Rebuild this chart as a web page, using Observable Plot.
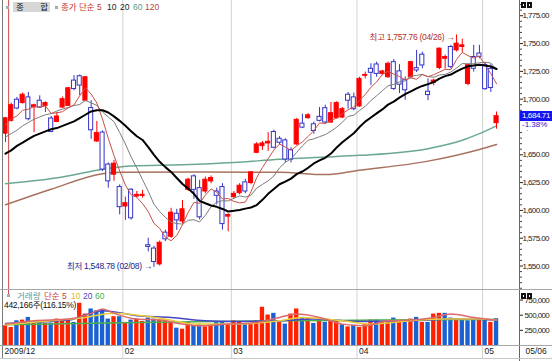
<!DOCTYPE html>
<html><head><meta charset="utf-8">
<script src="https://cdn.jsdelivr.net/npm/d3@7"></script>
<script src="https://cdn.jsdelivr.net/npm/@observablehq/plot@0.6"></script>
<style>
body{margin:0;background:#fff;}
#chart{position:relative;width:552px;height:361px;overflow:hidden;background:#fff;font-family:'Liberation Sans','Noto Sans CJK KR',sans-serif;}
#chart svg{position:absolute;left:0;}
.ov{position:absolute;white-space:nowrap;font-size:8.5px;line-height:10px;}
.hl{position:absolute;height:1px;}
.vl{position:absolute;width:1px;}
</style></head><body><div id="chart"></div>
<script>
// ---- data ----
const dates = ["12/30","01/04","01/05","01/06","01/07","01/08","01/11","01/12","01/13","01/14","01/15","01/18","01/19","01/20","01/21","01/22","01/25","01/26","01/27","01/28","01/29","02/01","02/02","02/03","02/04","02/05","02/08","02/09","02/10","02/11","02/12","02/16","02/17","02/18","02/19","02/22","02/23","02/24","02/25","02/26","03/02","03/03","03/04","03/05","03/08","03/09","03/10","03/11","03/12","03/15","03/16","03/17","03/18","03/19","03/22","03/23","03/24","03/25","03/26","03/29","03/30","03/31","04/01","04/02","04/05","04/06","04/07","04/08","04/09","04/12","04/13","04/14","04/15","04/16","04/19","04/20","04/21","04/22","04/23","04/26","04/27","04/28","04/29","04/30","05/03","05/04","05/06"];
const opens = [1669.0,1680.5,1699.5,1696.5,1701.6,1692.8,1698.6,1694.0,1682.6,1679.5,1692.5,1694.0,1716.7,1720.6,1698.6,1692.0,1662.0,1670.0,1641.2,1632.1,1621.0,1603.5,1618.6,1612.5,1613.0,1568.7,1565.7,1551.5,1580.0,1576.3,1597.0,1590.0,1618.5,1630.6,1620.0,1617.0,1626.1,1617.0,1621.0,1594.4,1611.9,1615.5,1625.2,1624.6,1651.8,1657.8,1660.2,1670.5,1664.4,1662.9,1654.2,1659.3,1678.0,1682.9,1677.4,1684.1,1691.9,1679.0,1682.9,1683.5,1704.0,1701.6,1693.5,1721.0,1727.3,1731.2,1722.7,1719.7,1733.3,1725.0,1717.0,1719.7,1727.9,1740.0,1706.7,1714.6,1727.9,1736.3,1746.9,1743.9,1746.9,1713.7,1737.9,1741.0,1730.6,1727.0,1678.4];
const highs = [1683.5,1696.5,1701.6,1705.5,1706.0,1695.5,1703.0,1697.7,1684.5,1688.0,1702.0,1710.5,1721.2,1721.8,1720.3,1698.6,1680.0,1671.5,1642.7,1645.0,1623.0,1612.0,1619.5,1617.0,1618.0,1575.0,1567.8,1572.5,1582.3,1601.9,1601.0,1609.0,1629.0,1632.0,1627.0,1630.0,1631.0,1620.0,1624.0,1597.0,1617.0,1624.0,1628.0,1635.0,1661.0,1662.0,1669.9,1672.0,1666.3,1664.4,1656.3,1682.6,1686.5,1687.0,1679.5,1692.5,1694.6,1697.0,1697.7,1692.5,1706.1,1705.5,1719.7,1724.4,1731.8,1733.3,1725.8,1733.3,1735.7,1731.0,1720.0,1734.0,1743.9,1742.4,1718.2,1718.0,1746.0,1739.6,1748.4,1757.76,1754.0,1731.5,1748.4,1748.4,1733.0,1731.0,1688.5];
const lows = [1661.0,1679.5,1690.5,1695.6,1680.5,1670.0,1691.6,1688.0,1669.9,1678.8,1691.6,1693.4,1707.6,1703.1,1697.7,1663.8,1661.0,1635.0,1620.0,1626.1,1596.0,1591.0,1591.3,1611.0,1611.0,1562.7,1548.78,1550.0,1572.0,1574.8,1582.0,1588.0,1617.0,1610.0,1591.4,1615.0,1624.0,1605.0,1582.3,1580.8,1610.0,1614.0,1615.0,1623.0,1651.0,1654.0,1653.0,1655.4,1659.0,1642.7,1642.7,1658.4,1673.5,1682.0,1668.4,1679.6,1677.4,1678.3,1682.0,1682.6,1691.0,1689.5,1692.5,1718.2,1712.2,1719.7,1721.0,1718.8,1707.7,1705.0,1699.0,1718.5,1724.0,1727.3,1698.6,1712.0,1726.5,1727.0,1727.3,1742.5,1742.0,1712.0,1724.3,1736.3,1708.0,1706.0,1673.0];
const closes = [1682.8,1694.6,1691.6,1704.0,1682.0,1694.5,1692.5,1696.5,1670.5,1684.4,1700.0,1709.8,1709.1,1712.2,1719.7,1672.0,1669.5,1636.7,1626.1,1642.0,1602.9,1606.5,1592.9,1614.0,1614.0,1567.2,1553.6,1570.9,1574.0,1598.0,1591.0,1601.0,1627.6,1618.5,1593.8,1627.6,1629.1,1613.1,1587.7,1595.9,1614.9,1622.2,1617.0,1634.2,1659.3,1660.2,1661.7,1656.3,1660.8,1645.7,1645.7,1681.4,1674.4,1685.5,1671.4,1680.5,1679.0,1687.4,1696.5,1691.0,1698.6,1691.0,1718.2,1721.8,1723.7,1722.7,1724.9,1731.8,1709.2,1713.0,1708.0,1733.3,1725.8,1730.3,1703.7,1716.7,1745.4,1737.9,1728.8,1749.9,1748.4,1730.6,1727.3,1738.0,1709.0,1710.0,1684.71];
const prevClose = 1670.0; // close before the first visible day
const volumes = [325,297,408,419,464,381,397,364,369,436,419,419,381,697,519,603,575,586,436,475,475,381,419,436,397,453,436,419,419,381,286,269,381,325,342,308,342,381,397,342,408,397,364,353,408,631,503,531,381,353,519,603,464,453,364,419,381,397,397,342,308,336,297,353,419,419,381,381,453,408,381,436,464,381,381,519,531,531,453,436,419,408,419,419,419,381,442.166];
const ma5 = [1677,1682,1685,1690,1691.0,1693.3,1692.9,1693.9,1687.2,1687.7,1688.8,1692.2,1694.8,1703.1,1710.2,1704.6,1696.5,1682.0,1664.8,1649.3,1635.4,1622.8,1614.1,1611.7,1606.1,1598.9,1588.3,1583.9,1575.9,1572.7,1577.5,1587.0,1598.3,1607.2,1606.4,1613.7,1619.3,1616.4,1610.3,1610.7,1608.1,1606.8,1607.5,1616.8,1629.5,1638.6,1646.5,1654.3,1659.7,1656.9,1654.0,1658.0,1661.6,1666.5,1671.7,1678.6,1678.2,1680.8,1683.0,1686.9,1690.5,1692.9,1699.1,1704.1,1710.7,1715.5,1722.3,1725.0,1722.5,1720.3,1717.4,1719.1,1717.9,1722.1,1720.2,1722.0,1724.4,1726.8,1726.5,1735.7,1742.1,1739.1,1737.0,1738.8,1730.7,1723.0,1713.8];
const ma10 = [1666,1669,1672,1676,1679,1682,1684,1686,1687,1689.3,1691.1,1692.6,1694.3,1695.2,1698.9,1696.7,1694.4,1688.4,1684.0,1679.7,1670.0,1659.7,1648.1,1638.2,1627.7,1617.2,1605.6,1599.0,1593.8,1589.4,1588.2,1587.7,1591.1,1591.6,1589.6,1595.6,1603.2,1607.4,1608.7,1608.5,1610.9,1613.0,1612.0,1613.6,1620.1,1623.4,1626.6,1630.9,1638.3,1643.2,1646.3,1652.2,1658.0,1663.1,1664.3,1666.3,1668.1,1671.2,1674.8,1679.3,1684.6,1685.5,1689.9,1693.5,1698.8,1703.0,1707.6,1712.0,1713.3,1715.5,1716.4,1720.7,1721.4,1722.3,1720.3,1719.7,1721.7,1722.3,1724.3,1728.0,1732.0,1731.8,1731.9,1732.7,1733.2,1732.5,1726.5];
const ma20 = [1651,1654,1658,1661,1664,1667,1669,1671,1673,1674,1676,1678,1680,1683,1686,1689,1690,1690,1688,1684.5,1680.5,1676.1,1671.2,1666.7,1663.3,1656.9,1650.0,1643.7,1638.9,1634.6,1629.1,1623.7,1619.6,1614.9,1608.6,1606.4,1604.4,1603.2,1601.3,1599.0,1599.6,1600.4,1601.6,1602.6,1604.8,1609.5,1614.9,1619.2,1623.5,1625.9,1628.6,1632.6,1635.0,1638.3,1642.2,1644.9,1647.3,1651.1,1656.5,1661.3,1665.4,1669.4,1674.9,1679.8,1683.5,1687.2,1690.8,1695.1,1697.8,1701.4,1704.5,1707.1,1709.7,1711.9,1713.5,1715.3,1718.5,1720.7,1722.1,1724.9,1727.4,1729.5,1730.2,1731.0,1730.2,1729.4,1727.1];
const ma60Idx = [0,10,17,22,31,40,48,56,62,74,80,83,86];
const ma60 = [1624,1630,1637,1640,1641,1643,1646,1648,1649.5,1655.5,1663,1669,1676];
const ma120Idx = [0,8,17,20,34,48,56,62,74,83,86];
const ma120 = [1605,1619,1633,1634.3,1634.5,1634.3,1632.2,1636.1,1644.3,1654.8,1659.3];
const vma5Idx = [0,5,11,15,17,19,23,27,31,34,39,44,48,51,55,59,63,67,71,75,78,82,86];
const vma5 = [353,408,436,531,603,531,436,419,353,325,353,381,464,519,464,353,325,408,419,464,519,464,419];
const vma10Idx = [0,8,14,19,24,29,33,40,48,52,59,64,71,77,83,86];
const vma10 = [342,408,464,531,492,419,353,353,408,464,408,353,408,436,436,419];
const vma20Idx = [0,11,17,23,29,35,40,48,54,62,71,79,86];
const vma20 = [364,419,575,492,464,408,397,408,436,397,408,436,419];
const vma60Idx = [0,23,48,65,86];
const vma60 = [342,381,408,419,431];
const priceTicks = [1550,1575,1600,1625,1650,1675,1700,1725,1750,1775];
const volTicks = [250000,500000,750000];
const firstLabel = "2009/12";
const lastChangeLabel = "-1.38%";
const volInfoLabel = "442,166주(116.15%)";

// ---- build ----
const N = closes.length;
const data = d3.range(N).map(i => ({i, o: opens[i], h: highs[i], l: lows[i], c: closes[i], v: volumes[i]*1000,
  up: closes[i] >= opens[i], vup: closes[i] >= (i ? closes[i-1] : prevClose)}));
const RED = "#ff0000", BLUE = "#3434c8", VRED = "#ff2000", VBLUE = "#1a62d4";
const FONT = "'Liberation Sans','Noto Sans CJK KR',sans-serif";
const xDomain = [-0.35, 90.02];
const fmt2 = d3.format(",.2f");
const boundaries = d3.range(1, N).filter(i => dates[i].slice(0,2) !== dates[i-1].slice(0,2));
const gridIdx = boundaries.filter(i => dates[i].slice(0,2) !== "01");
const yearIdx = boundaries.filter(i => dates[i].slice(0,2) === "01");
const minorTicks = d3.range(1530, 1790, 5).filter(v => v % 25 !== 0);
const hiI = d3.maxIndex(highs), loI = d3.minIndex(lows);
const pts = (ix, vals, k=1) => ix.map((d, j) => ({i: d, v: vals[j]*k}));
const lc = (arr, color, w=1) => Plot.lineY(arr, {x: (d, i) => i, y: d => d, stroke: color, strokeWidth: w});

const price = Plot.plot({
  width: 552, height: 290, marginLeft: 3, marginRight: 33, marginTop: 0, marginBottom: 0,
  x: {domain: xDomain, axis: null},
  y: {domain: [1528, 1788.7]},
  color: {type: "identity"},
  style: {fontFamily: FONT, fontSize: "8px", background: "transparent"},
  marks: [
    Plot.ruleX(gridIdx, {x: d => d - 0.45, stroke: "#d2d2d2"}),
    Plot.ruleX(yearIdx, {x: d => d - 0.45, stroke: "#d24a4a"}),
    Plot.line(pts(ma120Idx, ma120), {x: "i", y: "v", stroke: "#a8725f", curve: "monotone-x"}),
    Plot.line(pts(ma60Idx, ma60), {x: "i", y: "v", stroke: "#6aa894", curve: "monotone-x"}),
    Plot.ruleX(data, {x: "i", y1: "l", y2: "h", stroke: d => d.up ? RED : BLUE}),
    Plot.rect(data, {x1: d => d.i - 0.36, x2: d => d.i + 0.36, y1: d => Math.min(d.o, d.c), y2: d => Math.max(d.o, d.c), fill: d => d.up ? RED : "#ffffff", stroke: d => d.up ? RED : BLUE}),
    lc(ma10, "#7c7c7c"),
    lc(ma5, "#c8504a"),
    lc(ma20, "#000000", 2),
    Plot.ruleX([xDomain[1]], {stroke: "#666"}),
    Plot.axisY(priceTicks, {anchor: "right", tickSize: 3, tickPadding: 0, tickFormat: fmt2, fontSize: 8, color: "#222", label: null}),
    Plot.axisY(minorTicks, {anchor: "right", tickSize: 2, tickFormat: () => "", color: "#444", label: null}),
    Plot.text([hiI], {x: d => d, y: d => highs[d], text: d => `최고 ${fmt2(highs[d])} (${dates[d]}) →`, textAnchor: "end", dx: -2, dy: 2, fill: "#b4302c", fontSize: 8.5}),
    Plot.text([loI], {x: d => d, y: d => lows[d], text: d => `최저 ${fmt2(lows[d])} (${dates[d]}) →`, textAnchor: "end", dx: -2, dy: -1, fill: "#1c1c8c", fontSize: 8.5})
  ]
});

const vol = Plot.plot({
  width: 552, height: 71, marginLeft: 3, marginRight: 33, marginTop: 0, marginBottom: 16,
  x: {domain: xDomain, axis: null},
  y: {domain: [0, 908000]},
  color: {type: "identity"},
  style: {fontFamily: FONT, fontSize: "8.5px", background: "transparent"},
  marks: [
    Plot.ruleX(gridIdx, {x: d => d - 0.45, stroke: "#d2d2d2", insetBottom: -14}),
    Plot.rectY(data, {x1: d => d.i - 0.38, x2: d => d.i + 0.38, y: "v", fill: d => d.vup ? VRED : VBLUE}),
    Plot.line(pts(vma60Idx, vma60, 1000), {x: "i", y: "v", stroke: "#49b04f", curve: "monotone-x"}),
    Plot.line(pts(vma20Idx, vma20, 1000), {x: "i", y: "v", stroke: "#4646c8", curve: "monotone-x"}),
    Plot.line(pts(vma10Idx, vma10, 1000), {x: "i", y: "v", stroke: "#eccd3a", curve: "monotone-x"}),
    Plot.line(pts(vma5Idx, vma5, 1000), {x: "i", y: "v", stroke: "#dd6a6a", curve: "monotone-x"}),
    Plot.ruleX([xDomain[1]], {stroke: "#666", insetBottom: -16}),
    Plot.axisY(volTicks, {anchor: "right", tickSize: 3, tickPadding: 2, tickFormat: d3.format(","), fontSize: 8, color: "#222", label: null}),
    Plot.text(gridIdx, {x: d => d - 0.45, text: d => dates[d].slice(0,2), frameAnchor: "bottom", dy: 8, dx: 2, textAnchor: "start", fill: "#222"}),
    Plot.text([firstLabel], {x: xDomain[0], text: d => d, frameAnchor: "bottom", dy: 8, dx: 1, textAnchor: "start", fill: "#222"}),
    Plot.text([dates[N-1]], {x: xDomain[1], text: d => d, frameAnchor: "bottom", dy: 8, dx: 6, textAnchor: "start", fill: "#222"})
  ]
});

// tighten the axis tick labels so they fit the right margin
for (const svg of [price, vol]) d3.select(svg).selectAll("[aria-label='y-axis tick label'] text").attr("letter-spacing", "-0.6px");
for (const svg of [price]) d3.select(svg).selectAll("[aria-label='text'] text").attr("letter-spacing", "-0.3px");

const root = document.getElementById("chart");
price.style.top = "0px";
vol.style.top = "290px";
root.appendChild(price);
root.appendChild(vol);

function add(html, css) { const d = document.createElement("div"); d.className = "ov"; Object.assign(d.style, css); d.innerHTML = html; root.appendChild(d); return d; }
function line(cls, css) { const d = document.createElement("div"); d.className = cls; Object.assign(d.style, css); root.appendChild(d); }

// last-value box on the price axis (position from the plot's y scale)
const yLast = price.scale("y").apply(closes[N-1]);
add("", {left: "520px", top: (yLast + 5) + "px", width: "32px", height: "9px", background: "#fff"});
add(lastChangeLabel, {left: "522px", top: (yLast + 4) + "px", color: "#2020d0", fontSize: "8px"});
add(fmt2(closes[N-1]), {left: "520px", top: (yLast - 5) + "px", width: "30px", height: "10px", paddingLeft: "2px", background: "#1414f0", color: "#fff", fontSize: "8px", letterSpacing: "-0.4px"});

// frame lines
line("vl", {left: "2px", top: "0px", height: "358px", background: "#7a7a7a"});
line("hl", {left: "0px", top: "289px", width: "552px", background: "#a6a6a6"});
line("hl", {left: "0px", top: "345px", width: "552px", background: "#a6a6a6"});
line("hl", {left: "0px", top: "358px", width: "552px", background: "#c8c8c8"});
// year-change cursor piece in volume panel
line("vl", {left: Math.round(price.scale("x").apply(yearIdx[0] - 0.45)) + "px", top: "290px", height: "6px", background: "#d24a4a"});
// top-left legend
add("", {left: "6px", top: "6px", width: "3px", height: "3px", background: "#aaa"});
add("<span style='position:absolute;left:3px'>종</span><span style='position:absolute;right:2px'>합</span>", {left: "13px", top: "2px", width: "37px", height: "10px", background: "#d6d6d6", color: "#111"});
add("", {left: "55px", top: "6px", width: "3px", height: "3px", background: "#aaa"});
add("종가 단순 5", {left: "61px", top: "2px", color: "#c83232"});
add("10", {left: "107px", top: "2px", color: "#222"});
add("20", {left: "120px", top: "2px", color: "#222"});
add("60", {left: "133px", top: "2px", color: "#5a9c86"});
add("120", {left: "145px", top: "2px", color: "#b04848"});
// volume legend
add("", {left: "7px", top: "294px", width: "3px", height: "3px", background: "#aaa"});
add("거래량", {left: "17px", top: "291px", color: "#5e9c9c"});
add("단순 5", {left: "44px", top: "291px", color: "#d03a3a"});
add("10", {left: "71px", top: "291px", color: "#e0bc20"});
add("20", {left: "83px", top: "291px", color: "#4646c8"});
add("60", {left: "95px", top: "291px", color: "#49b04f"});
add(volInfoLabel, {left: "4px", top: "300px", color: "#111", letterSpacing: "-0.3px"});
// small icons
function icon(x, y) { add("", {left: x + "px", top: y + "px", width: "5px", height: "6px", background: "#111"}); add("", {left: (x+6) + "px", top: y + "px", width: "5px", height: "6px", background: "#111"}); add("", {left: (x+2) + "px", top: (y+2) + "px", width: "1px", height: "2px", background: "#fff"}); add("", {left: (x+8) + "px", top: (y+2) + "px", width: "1px", height: "2px", background: "#fff"}); }
icon(521, 2);
icon(521, 293);
</script></body></html>
